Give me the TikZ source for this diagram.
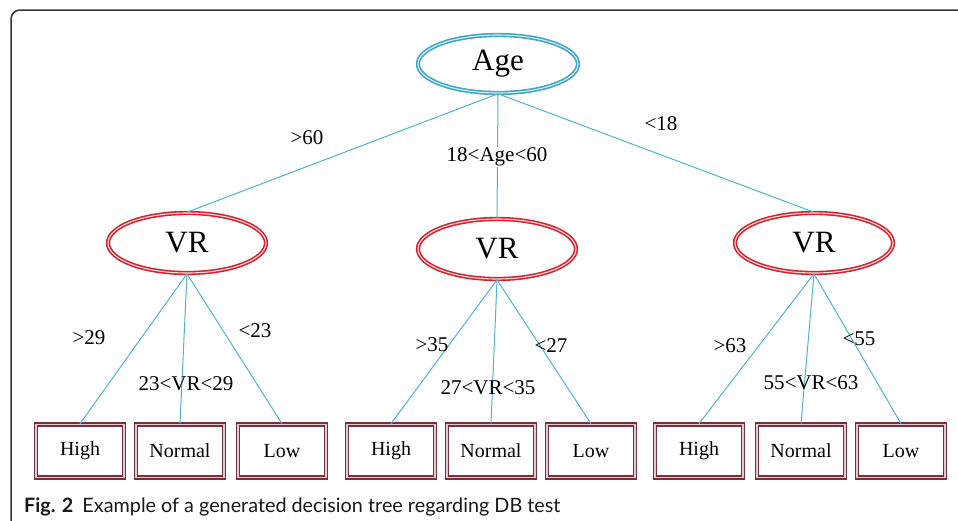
\documentclass[tikz,border=0pt]{standalone}
\usepackage{fontspec}
\setmainfont{Liberation Serif}
\newfontfamily\capfont{Lato}
\usetikzlibrary{shapes.geometric}
\definecolor{agecol}{HTML}{3EA6C4}
\definecolor{linecol}{HTML}{4FB3CB}
\definecolor{vrcol}{HTML}{D6222C}
\definecolor{leafcol}{HTML}{7A2E3E}
\definecolor{framecol}{HTML}{333333}
\tikzset{
  agenode/.style={ellipse, draw=agecol, line width=1.6pt, double=agecol!20, double distance=1.1pt,
    minimum width=160pt, minimum height=58pt, inner sep=0pt, font=\fontsize{31}{31}\selectfont},
  vrnode/.style={ellipse, draw=vrcol, line width=1.6pt, double=vrcol!15, double distance=1.1pt,
    minimum width=158pt, minimum height=60pt, inner sep=0pt, font=\fontsize{31}{31}\selectfont},
  leafnode/.style={rectangle, draw=leafcol, line width=1.6pt, double=leafcol!25, double distance=1.3pt,
    minimum width=88pt, minimum height=53pt, inner sep=0pt, font=\fontsize{20}{20}\selectfont},
  conn/.style={draw=linecol, line width=1pt},
  lbl/.style={inner sep=0pt, font=\fontsize{21}{21}\selectfont},
}
\begin{document}
\begin{tikzpicture}[x=1pt,y=-1pt]
\useasboundingbox (0,0) rectangle (958,520);
% frame
\draw[framecol, line width=1.5pt, rounded corners=9pt] (11,524) -- (11,10) -- (962,10);
% nodes
\node[agenode] (age) at (498,64) {Age};
\node[vrnode] (vr1) at (187,243) {VR};
\node[vrnode] (vr2) at (497,249) {VR};
\node[vrnode] (vr3) at (814,243) {VR};
\foreach \n/\x in {h1/80,h2/391,h3/699}{\node[leafnode] (\n) at (\x,451) {High};}
\foreach \n/\x in {n1/180,n2/491,n3/801}{\node[leafnode] (\n) at (\x,451) {Normal};}
\foreach \n/\x in {l1/282,l2/591,l3/901}{\node[leafnode] (\n) at (\x,451) {Low};}
% connectors
\draw[conn] (age.south) -- (vr1.north);
\draw[conn] (age.south) -- (vr2.north);
\draw[conn] (age.south) -- (vr3.north);
\foreach \v/\i in {vr1/1,vr2/2,vr3/3}{
  \draw[conn] (\v.south) -- (h\i.north);
  \draw[conn] (\v.south) -- (n\i.north);
  \draw[conn] (\v.south) -- (l\i.north);
}
% labels
\node[lbl] (a1) at (307,138) {>60};
\node[lbl, fill=white, inner sep=1pt] (a2) at (497,157) {18<Age<60};
\node[lbl] (a3) at (661,124) {<18};
\node[lbl] (b1) at (89,338) {>29};
\node[lbl] (b2) at (186,384) {23<VR<29};
\node[lbl] (b3) at (255,331) {<23};
\node[lbl] (c1) at (432,345) {>35};
\node[lbl] (c2) at (488,388) {27<VR<35};
\node[lbl] (c3) at (551,346) {<27};
\node[lbl] (d1) at (730,346) {>63};
\node[lbl] (d2) at (811,383) {55<VR<63};
\node[lbl] (d3) at (859,339) {<55};
% caption
\node[anchor=base west, inner sep=0pt, text=black!90, font=\capfont\fontsize{19.8}{20}\selectfont] (cap) at (24,512)
  {\textbf{Fig. 2}\hspace{9pt}Example of a generated decision tree regarding DB test};
\end{tikzpicture}
\end{document}
